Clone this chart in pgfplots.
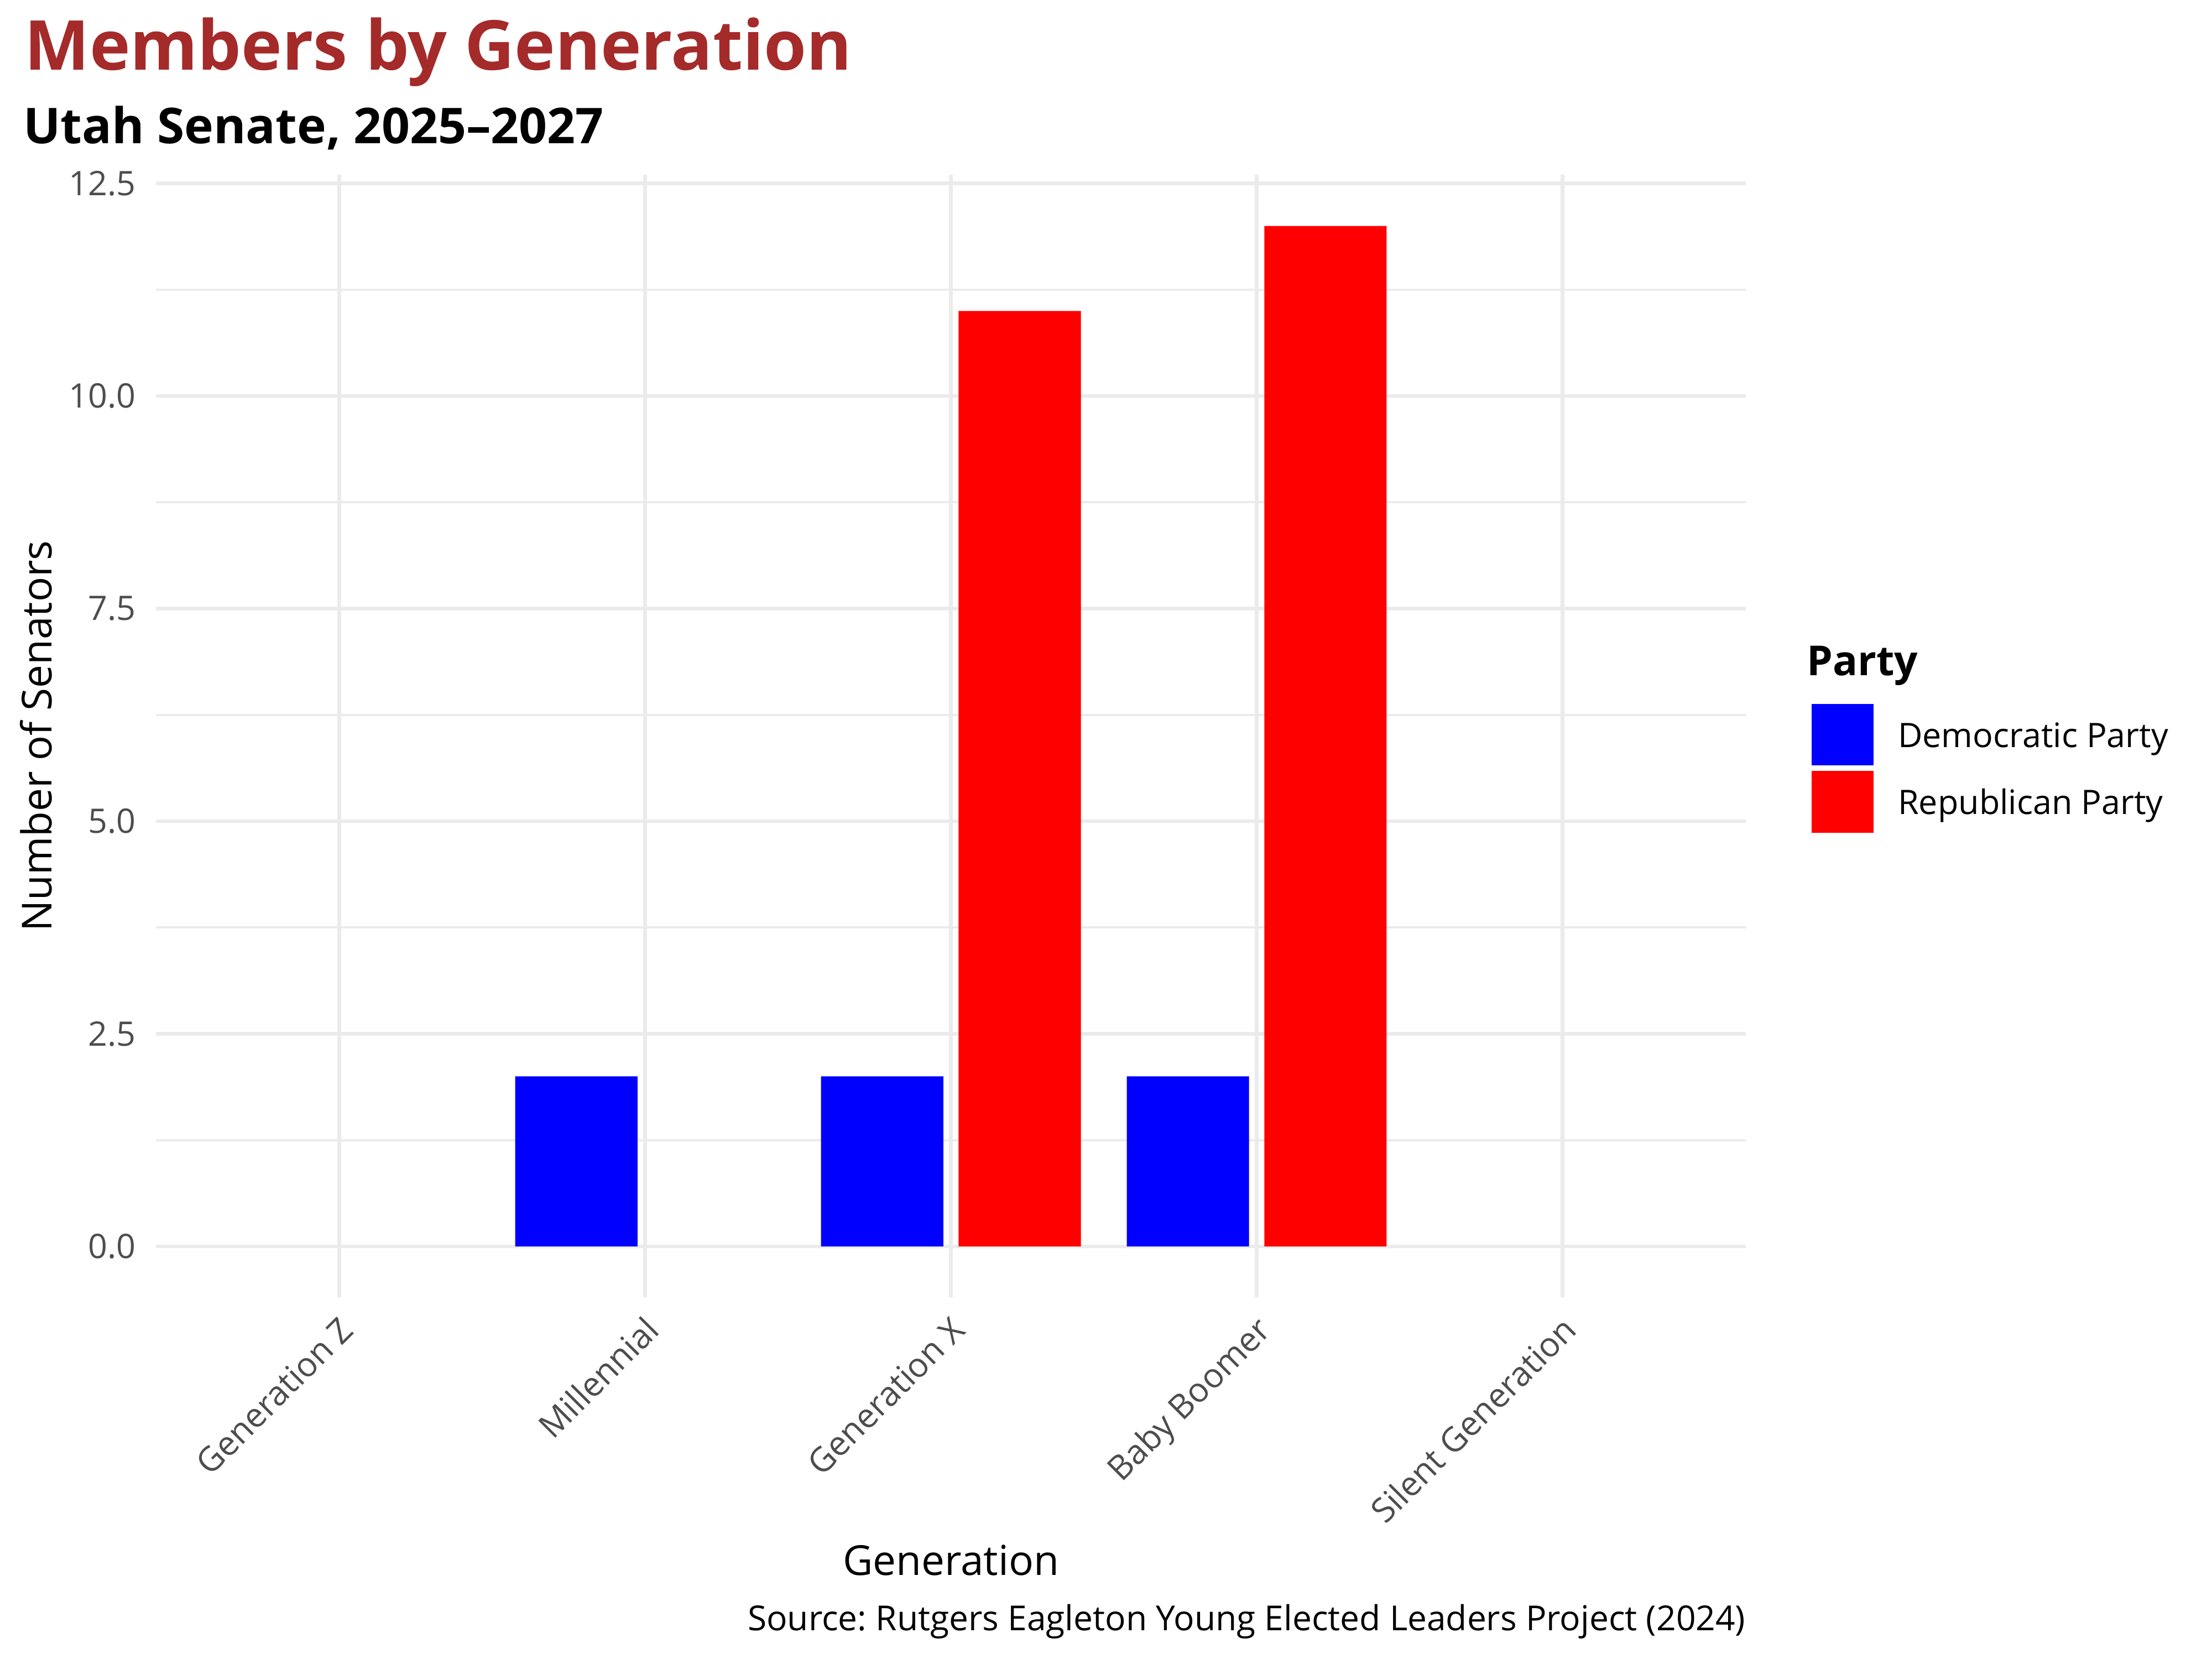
\documentclass[border=0pt]{standalone}
\usepackage{fontspec}
\setmainfont{Open Sans}
\usepackage{pgfplots}
\pgfplotsset{compat=1.18}
\definecolor{gridgray}{HTML}{EBEBEB}
\definecolor{tickgray}{HTML}{4D4D4D}
\definecolor{titlebrown}{HTML}{A52A2A}
\definecolor{dem}{HTML}{0000FF}
\definecolor{rep}{HTML}{FF0000}
\frenchspacing
\begin{document}
\begin{tikzpicture}
\useasboundingbox (0,0) rectangle (960bp,720bp);
\begin{axis}[
  at={(67.7bp,156.9bp)}, anchor=south west,
  scale only axis, width=690bp, height=487.2bp,
  xmin=0.4, xmax=5.6, ymin=-0.6, ymax=12.6,
  axis line style={draw=none},
  tick style={draw=none},
  major tick length=0pt, minor tick length=0pt,
  xtick={1,2,3,4,5},
  xticklabels={Generation Z,Millennial,Generation X,Baby Boomer,Silent Generation},
  ytick={0,2.5,5,7.5,10,12.5},
  yticklabels={0.0,2.5,5.0,7.5,10.0,12.5},
  minor ytick={1.25,3.75,6.25,8.75,11.25},
  xmajorgrids, ymajorgrids, yminorgrids,
  major grid style={line width=1.6bp, color=gridgray},
  minor grid style={line width=0.9bp, color=gridgray},
  /pgf/number format/assume math mode=true,
  ticklabel style={font=\fontsize{14.7}{18}\selectfont, text=tickgray},
  yticklabel style={anchor=east, inner sep=0pt, xshift=-8.5bp},
  xticklabel style={xshift=7bp, yshift=-15bp, rotate=45, anchor=base east, inner sep=0pt},
  xlabel={Generation},
  ylabel={Number of Senators},
  label style={font=\fontsize{18}{22}\selectfont, text=black, inner sep=0pt},
  xlabel style={at={(axis description cs:0.5,-0.2473)}, anchor=base},
  ylabel style={at={(axis description cs:-0.06565,0.5)}, anchor=base},
  legend style={at={(1.0412,0.5289)}, anchor=north west, draw=none, fill=none,
    inner sep=0pt, outer sep=0pt, row sep=2.4bp, column sep=10.6bp,
    nodes={inner sep=0pt, text height=11bp, text depth=0bp},
    font=\fontsize{14.7}{18}\selectfont},
  legend cell align=left,
]
\addplot[ybar, fill=dem, draw=none, bar width=0.4, bar shift=-0.225, forget plot]
  coordinates {(2,2) (3,2) (4,2)};
\addplot[ybar, fill=rep, draw=none, bar width=0.4, bar shift=0.225, forget plot]
  coordinates {(3,11) (4,12)};
\addlegendimage{legend image code/.code={\fill[dem] (0bp,-13.2bp) rectangle (26.6bp,13.2bp);}}
\addlegendentry{Democratic Party}
\addlegendimage{legend image code/.code={\fill[rep] (0bp,-13.2bp) rectangle (26.6bp,13.2bp);}}
\addlegendentry{Republican Party}
\end{axis}
\node[anchor=base west, inner sep=0pt, text=titlebrown, font=\fontsize{30}{36}\selectfont\bfseries] at (10.5bp,689.6bp) {Members by Generation};
\node[anchor=base west, inner sep=0pt, font=\fontsize{21.5}{26}\selectfont\bfseries] at (10bp,657.6bp) {Utah Senate, 2025–2027};
\node[anchor=base west, inner sep=0pt, font=\fontsize{18}{22}\selectfont\bfseries] at (784bp,426.8bp) {Party};
\node[anchor=base east, inner sep=0pt, font=\fontsize{15}{18}\selectfont] at (757.7bp,12.4bp) {Source: Rutgers Eagleton Young Elected Leaders Project (2024)};
\end{tikzpicture}
\end{document}
